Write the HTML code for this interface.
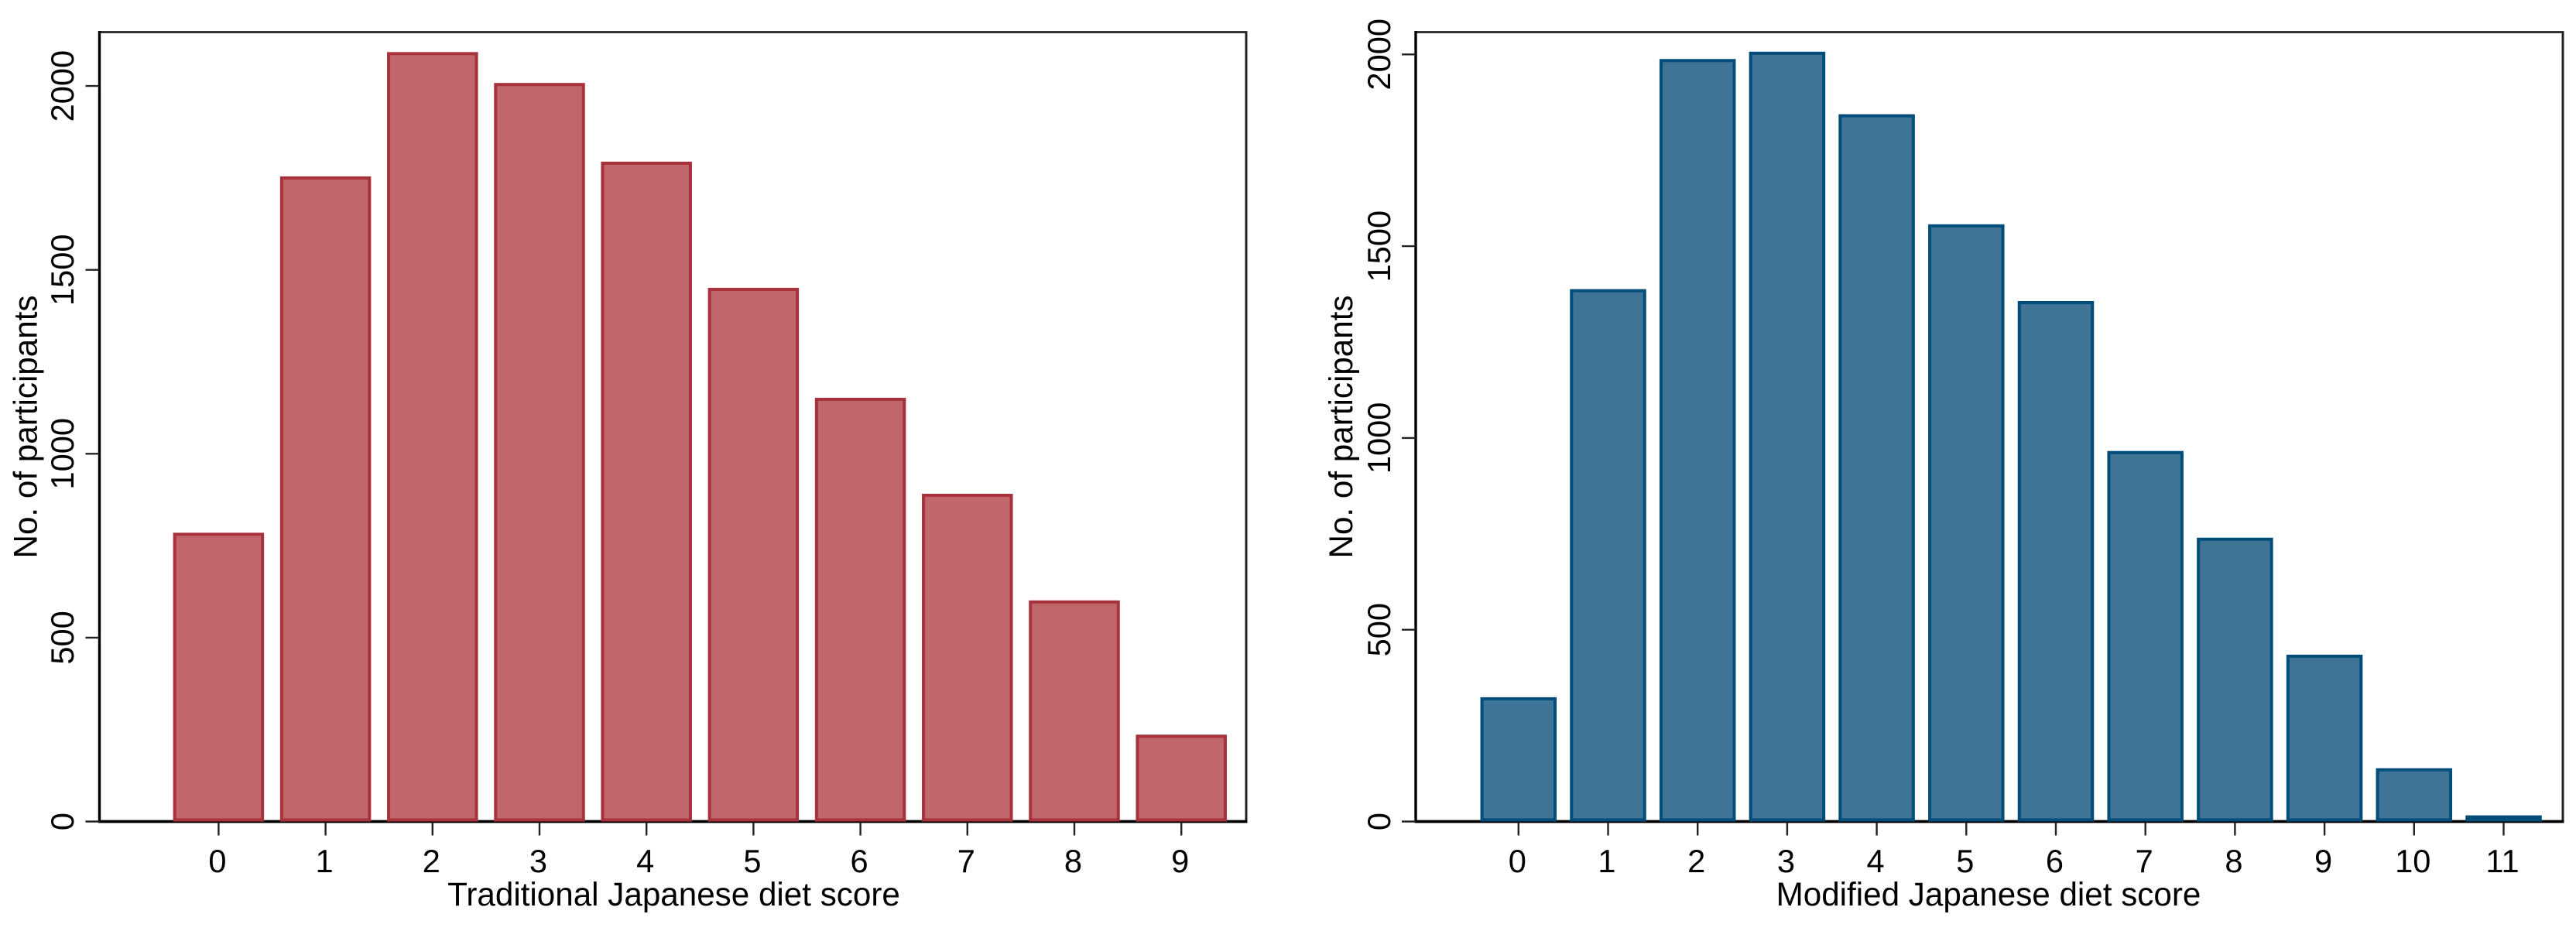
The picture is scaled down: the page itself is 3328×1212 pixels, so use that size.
<!DOCTYPE html>
<html lang="en">
<head>
<meta charset="utf-8">
<title>Japanese diet score distributions</title>
<style>
  html, body { margin: 0; padding: 0; background: #fff; }
  svg { display: block; }
  text { font-family: "Liberation Sans", Arial, sans-serif; font-size: 41.6px; fill: #000; }
  text.axis-title { font-size: 42.2px; }
</style>
</head>
<body>
<svg id="figure" xmlns="http://www.w3.org/2000/svg" width="3328" height="1212" viewBox="0 0 3328 1212">
  <rect x="0" y="0" width="3328" height="1212" fill="#ffffff"/>

  <g id="panel-left">
    <line x1="127" y1="41.5" x2="1611.5" y2="41.5" stroke="#222" stroke-width="2.8"/>
    <line x1="1610" y1="41" x2="1610" y2="1063" stroke="#222" stroke-width="3"/>
    <line x1="128.5" y1="40" x2="128.5" y2="1063" stroke="#000" stroke-width="3.4"/>
    <line x1="127" y1="1061.5" x2="1611.5" y2="1061.5" stroke="#000" stroke-width="3.8"/>
    <text class="axis-title" x="870.5" y="1170" text-anchor="middle">Traditional Japanese diet score</text>
    <text class="axis-title" transform="translate(47.3 551.5) rotate(-90)" text-anchor="middle">No. of participants</text>
  </g>

  <g id="panel-right">
    <line x1="1827.5" y1="41.5" x2="3312.5" y2="41.5" stroke="#222" stroke-width="2.8"/>
    <line x1="3311" y1="41" x2="3311" y2="1063" stroke="#222" stroke-width="3"/>
    <line x1="1829" y1="40" x2="1829" y2="1063" stroke="#000" stroke-width="3.4"/>
    <line x1="1827.5" y1="1061.5" x2="3312.5" y2="1061.5" stroke="#000" stroke-width="3.8"/>
    <text class="axis-title" x="2569" y="1170" text-anchor="middle">Modified Japanese diet score</text>
    <text class="axis-title" transform="translate(1747 551.5) rotate(-90)" text-anchor="middle">No. of participants</text>
  </g>
</svg>

<script>
const traditionalScores = [0, 1, 2, 3, 4, 5, 6, 7, 8, 9];
const traditionalCounts = [781, 1750, 2088, 2004, 1790, 1447, 1148, 887, 597, 232];
const modifiedScores = [0, 1, 2, 3, 4, 5, 6, 7, 8, 9, 10, 11];
const modifiedCounts = [320, 1384, 1984, 2003, 1840, 1553, 1353, 962, 736, 431, 135, 12];
const countTicks = [0, 500, 1000, 1500, 2000];

const SVG_NS = 'http://www.w3.org/2000/svg';

function xScale(panel, score) {
  return panel.x0 + panel.step * score;
}
function yScale(panel, count) {
  return panel.y0 - panel.perUnit * count;
}

function drawPanel(panel, scores, counts, ticks) {
  const group = document.getElementById(panel.groupId);

  ticks.forEach(function (tick) {
    const y = yScale(panel, tick);
    const line = document.createElementNS(SVG_NS, 'line');
    line.setAttribute('x1', panel.axisX - 18);
    line.setAttribute('x2', panel.axisX);
    line.setAttribute('y1', y);
    line.setAttribute('y2', y);
    line.setAttribute('stroke', '#222');
    line.setAttribute('stroke-width', '2.4');
    
    
    group.appendChild(line);

    const label = document.createElementNS(SVG_NS, 'text');
    label.setAttribute('transform', 'translate(' + panel.yLabelX + ' ' + y + ') rotate(-90)');
    label.setAttribute('text-anchor', 'middle');
    label.textContent = String(tick);
    
    
    group.appendChild(label);
  });

  scores.forEach(function (score, i) {
    const cx = xScale(panel, score);
    const top = yScale(panel, counts[i]);
    const base = panel.y0 - 2;

    const bar = document.createElementNS(SVG_NS, 'rect');
    bar.setAttribute('x', cx - panel.barWidth / 2);
    bar.setAttribute('y', top);
    bar.setAttribute('width', panel.barWidth);
    bar.setAttribute('height', Math.max(0, base - top));
    bar.setAttribute('fill', panel.fill);
    bar.setAttribute('stroke', panel.stroke);
    bar.setAttribute('stroke-width', '4');
    
    
    group.appendChild(bar);

    const tick = document.createElementNS(SVG_NS, 'line');
    tick.setAttribute('x1', cx);
    tick.setAttribute('x2', cx);
    tick.setAttribute('y1', panel.y0 + 1);
    tick.setAttribute('y2', panel.y0 + 18);
    tick.setAttribute('stroke', '#222');
    tick.setAttribute('stroke-width', '2.4');
    
    
    group.appendChild(tick);

    const label = document.createElementNS(SVG_NS, 'text');
    label.setAttribute('x', cx - 1.5);
    label.setAttribute('y', 1127);
    label.setAttribute('text-anchor', 'middle');
    label.textContent = String(score);
    
    
    group.appendChild(label);
  });
}

drawPanel({
  groupId: 'panel-left', x0: 282.4, step: 138.2, y0: 1061.5, perUnit: 0.4752,
  axisX: 128.5, yLabelX: 95, barWidth: 113.5, fill: '#c1666c', stroke: '#a8323c'
}, traditionalScores, traditionalCounts, countTicks);

drawPanel({
  groupId: 'panel-right', x0: 1961.8, step: 115.7, y0: 1061.5, perUnit: 0.4956,
  axisX: 1829, yLabelX: 1796, barWidth: 94.5, fill: '#3f7497', stroke: '#004d7a'
}, modifiedScores, modifiedCounts, countTicks);
</script>
</body>
</html>
